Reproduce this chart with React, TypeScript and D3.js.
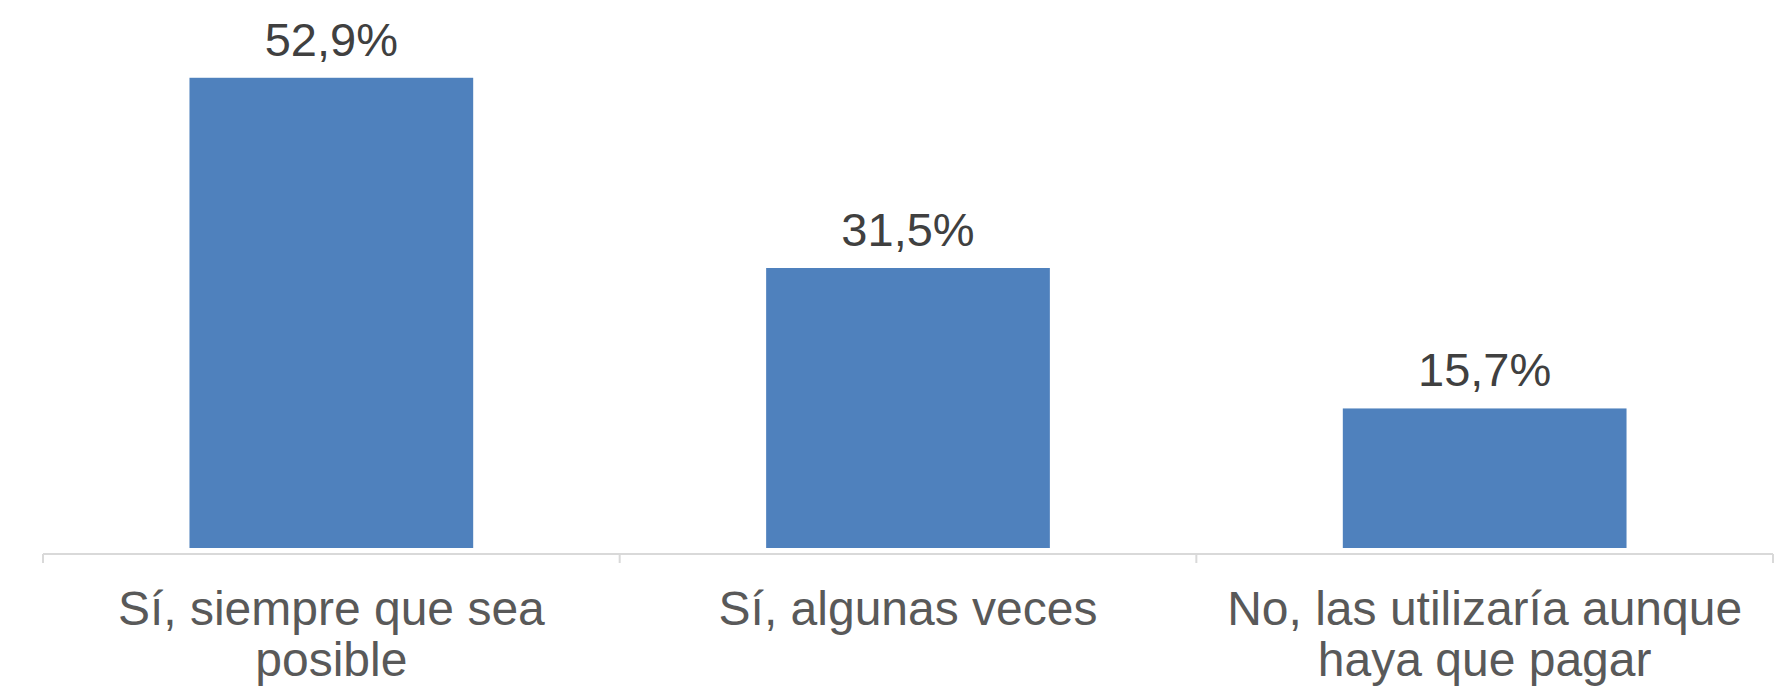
import React, { useRef, useEffect } from 'react';
import * as d3 from 'd3';

const categories = ['Sí, siempre que sea posible', 'Sí, algunas veces', 'No, las utilizaría aunque haya que pagar'];
const category_lines = [['Sí, siempre que sea', 'posible'], ['Sí, algunas veces'], ['No, las utilizaría aunque', 'haya que pagar']];
const values = [52.9, 31.5, 15.7];
const value_labels = ['52,9%', '31,5%', '15,7%'];

export default function App() {
    const svg_ref = useRef(null);

    useEffect(() => {
        const width = 1786;
        const height = 689;
        const svg = d3.select(svg_ref.current);
        svg.selectAll('*').remove();

        const margin = { left: 43, right: 13, top: 12, bottom: 141 };
        const font = '"Liberation Sans", Arial, sans-serif';

        const x = d3
            .scaleBand()
            .domain(categories)
            .range([margin.left, width - margin.right])
            .paddingInner(0.508)
            .paddingOuter(0.254);

        const y = d3.scaleLinear([0, 60.3], [height - margin.bottom, margin.top]);

        svg.append('g')
            .selectAll('rect')
            .data(values)
            .join('rect')
            .attr('x', (_, i) => x(categories[i]))
            .attr('y', (d) => y(d))
            .attr('width', x.bandwidth())
            .attr('height', (d) => y(0) - y(d))
            .attr('fill', '#4f81bd');

        svg.append('g')
            .selectAll('text')
            .data(values)
            .join('text')
            .attr('x', (_, i) => x(categories[i]) + x.bandwidth() / 2)
            .attr('y', (d) => y(d) - 22)
            .attr('text-anchor', 'middle')
            .attr('font-family', font)
            .attr('font-size', 47)
            .attr('fill', '#404040')
            .text((_, i) => value_labels[i]);

        // axis line + tick marks at category boundaries
        const axis_y = y(0) + 6;
        const axis = svg.append('g').attr('stroke', '#d9d9d9').attr('stroke-width', 2);
        axis.append('line')
            .attr('x1', margin.left)
            .attr('x2', width - margin.right)
            .attr('y1', axis_y)
            .attr('y2', axis_y);
        const step = x.step();
        const bounds = d3.range(categories.length + 1).map((i) => margin.left + i * step);
        axis.selectAll('.tick')
            .data(bounds)
            .join('line')
            .attr('x1', (d) => d)
            .attr('x2', (d) => d)
            .attr('y1', axis_y)
            .attr('y2', axis_y + 9);

        const labels = svg.append('g')
            .attr('font-family', font)
            .attr('font-size', 48)
            .attr('fill', '#595959')
            .attr('text-anchor', 'middle');
        categories.forEach((c, i) => {
            const t = labels.append('text').attr('x', x(c) + x.bandwidth() / 2).attr('y', 625);
            category_lines[i].forEach((line, j) => {
                t.append('tspan')
                    .attr('x', x(c) + x.bandwidth() / 2)
                    .attr('dy', j === 0 ? 0 : 51)
                    .text(line);
            });
        });
    }, []);

    return (
        <svg
            ref={svg_ref}
            width={1786}
            height={689}
            style={{ position: 'absolute', left: 0, top: 0, background: '#fff' }}
        ></svg>
    );
}
